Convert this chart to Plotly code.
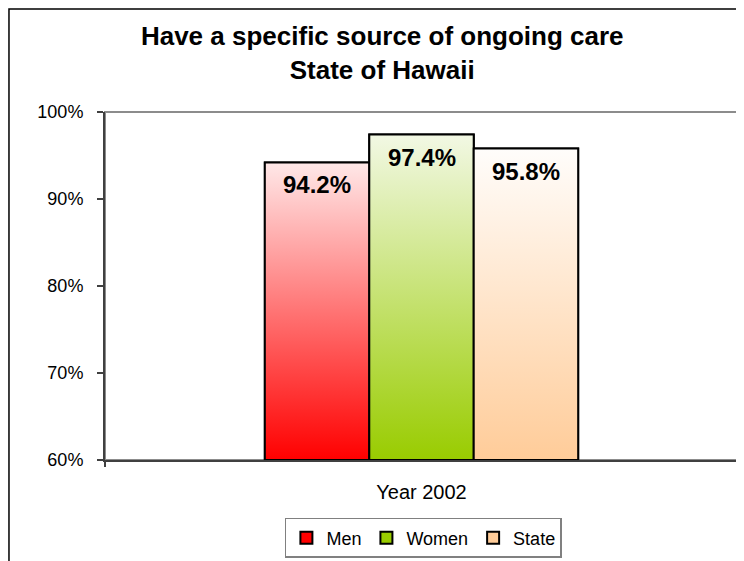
# Have a specific source of ongoing care - State of Hawaii, 2002
import plotly.graph_objects as go

groups = ["Men", "Women", "State"]
values = [94.2, 97.4, 95.8]
category = "Year 2002"
y_ticks = [60, 70, 80, 90, 100]
y_ticktext = [f"{t}%" for t in y_ticks]

# gradient colours per bar: (bottom, top)
bottom_colors = ["#FF0000", "#99CC00", "#FFCC99"]
top_colors = ["#FFE8E8", "#F2F8E4", "#FFFDFB"]

FONT = "Liberation Sans, Arial, sans-serif"
BAR_W = 0.165
BASE = 60

fig = go.Figure()

xs = [(i - 1) * BAR_W for i in range(len(groups))]

# plain bars: give the legend its squares
for name, x, v, c0 in zip(groups, xs, values, bottom_colors):
    fig.add_trace(go.Bar(
        x=[x], y=[v - BASE], base=BASE, width=BAR_W, name=name,
        marker=dict(color=c0, line=dict(color="black", width=2)),
        hoverinfo="skip",
    ))

# gradient overlay for each bar
for name, x, v, c0, c1 in zip(groups, xs, values, bottom_colors, top_colors):
    x0, x1 = x - BAR_W / 2, x + BAR_W / 2
    fig.add_trace(go.Scatter(
        x=[x0, x0, x1, x1, x0], y=[BASE, v, v, BASE, BASE],
        mode="lines", fill="toself", showlegend=False, hoverinfo="skip",
        line=dict(color="black", width=2),
        fillgradient=dict(type="vertical", colorscale=[[0, c0], [1, c1]]),
    ))

for x, v in zip(xs, values):
    fig.add_annotation(
        x=x, y=v, text=f"<b>{v:.1f}%</b>", showarrow=False,
        yanchor="top", yshift=-7, font=dict(family=FONT, size=24, color="black"),
    )

# outer chart frame (cropped on the right and bottom)
fig.add_shape(type="rect", xref="paper", yref="paper",
              x0=-0.1517, x1=1.2, y0=-0.5, y1=1.2958,
              line=dict(color="black", width=1.5), layer="below")
# plot area frame
fig.add_shape(type="rect", xref="paper", yref="paper",
              x0=0, x1=1, y0=0, y1=1,
              line=dict(color="#8C8C8C", width=2), layer="below")

fig.update_layout(
    width=744, height=561,
    margin=dict(l=97, r=14, t=104, b=108),
    paper_bgcolor="white", plot_bgcolor="white",
    barmode="overlay",
    font=dict(family=FONT, size=18, color="black"),
    title=dict(
        text="<b>Have a specific source of ongoing care<br>State of Hawaii</b>",
        x=0.503, xanchor="center", y=0.934, yanchor="middle",
        font=dict(family=FONT, size=26, color="black"),
    ),
    xaxis=dict(
        range=[-0.5, 0.5], tickvals=[0], ticktext=[category],
        ticks="", showgrid=False, zeroline=False,
        showline=True, linecolor="#404040", linewidth=2,
        ticklabelstandoff=13, tickfont=dict(size=20),
        minor=dict(tickvals=[-0.5, 0.5], ticks="outside", ticklen=5,
                   tickcolor="#404040", tickwidth=2, showgrid=False),
    ),
    yaxis=dict(
        range=[60, 100], tickvals=y_ticks, ticktext=y_ticktext,
        ticks="outside", ticklen=6, tickcolor="#404040", tickwidth=2,
        showgrid=False, zeroline=False,
        showline=True, linecolor="#404040", linewidth=2,
        ticklabelstandoff=10,
    ),
    legend=dict(
        orientation="h", x=0.503, xanchor="center", y=-0.2206, yanchor="middle",
        bordercolor="#808080", borderwidth=1.5, bgcolor="white",
        font=dict(family=FONT, size=18, color="black"),
        itemclick=False, itemdoubleclick=False,
    ),
)

fig.write_html("out.html")
